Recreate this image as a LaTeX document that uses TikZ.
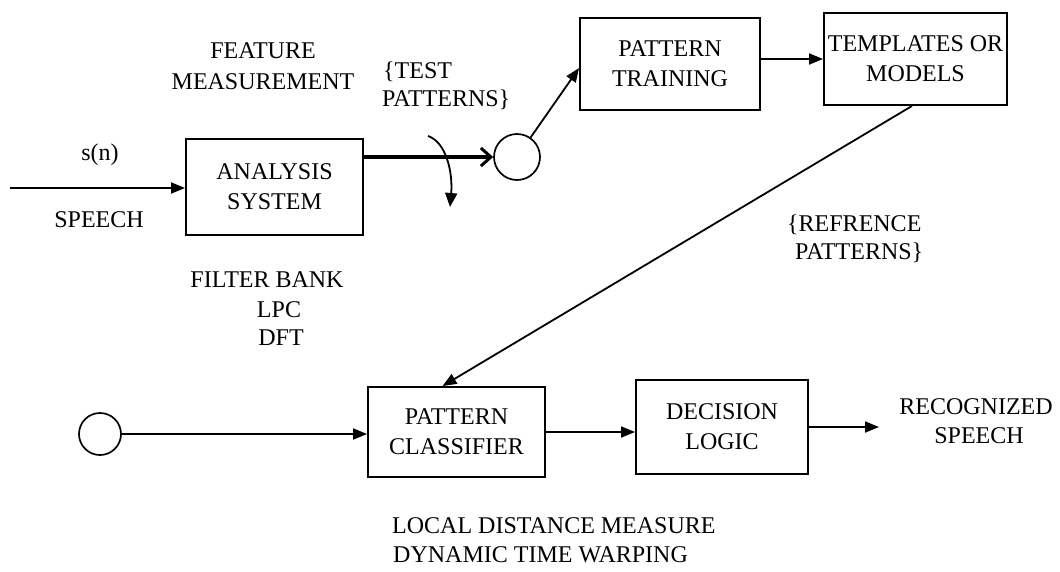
\documentclass[tikz,border=0pt]{standalone}
\usepackage{fontspec}
\setmainfont{Liberation Serif}
\usetikzlibrary{arrows.meta}
\begin{document}
\begin{tikzpicture}[x=1pt,y=-1pt,
  font=\fontsize{24}{30}\selectfont,
  block/.style={draw, line width=1.9pt, align=center, inner sep=0pt},
  hole/.style={draw, circle, line width=1.7pt, inner sep=0pt},
  lbl/.style={align=center, inner sep=0pt},
  flow/.style={line width=1.8pt, -{Triangle[length=14pt,width=11pt]}},
  bus/.style={line width=3.6pt, -{Straight Barb[length=10pt,width=18pt,line width=3pt]}},
]
\useasboundingbox (0,0) rectangle (1060,571);

% processing blocks
\node[block, minimum width=177pt, minimum height=96pt] (ana) at (274.5,187) {ANALYSIS\\SYSTEM};
\node[block, minimum width=180pt, minimum height=92pt] (pt) at (670,64) {PATTERN\\TRAINING};
\node[block, minimum width=183pt, minimum height=92pt] (tm) at (915.5,59) {TEMPLATES OR\\MODELS};
\node[block, minimum width=177pt, minimum height=90pt] (pc) at (456.5,432) {PATTERN\\CLASSIFIER};
\node[block, minimum width=172pt, minimum height=94pt] (dl) at (722,427) {DECISION\\LOGIC};

% switch terminals
\node[hole, minimum size=46pt] (c1) at (517,157) {};
\node[hole, minimum size=42pt] (c2) at (100,434) {};

% free ends
\coordinate (src) at (10,188);
\coordinate (out) at (879,427);
\coordinate (sw0) at (428,136);
\coordinate (sw1) at (450,207);

% connectors
\draw[flow] (src) -- (src -| ana.west);
\draw[bus] (ana.east |- c1) -- (c1.west);
\draw[line width=1.8pt, -{Triangle[length=14pt,width=12pt]}] (sw0) .. controls (446,142) and (453,172) .. (sw1);
\draw[flow] (c1) -- ([yshift=-4pt]pt.west);
\draw[flow] (pt.east |- tm.west) -- (tm.west);
\draw[flow] ([xshift=-3.5pt]tm.south) -- ([xshift=-14pt]pc.north);
\draw[flow] (c2) -- (c2 -| pc.west);
\draw[flow] (pc.east) -- (pc.east -| dl.west);
\draw[flow] (dl.east) -- (out);

% labels
\node[lbl] (sn) at (100,155) {s(n)};
\node[lbl] (sp) at (99,220) {SPEECH};
\node[lbl] (fe1) at (263,51) {FEATURE};
\node[lbl] (fe2) at (263,82) {MEASUREMENT};
\node[lbl, anchor=west] (tp1) at (383,72) {\{TEST};
\node[lbl, anchor=west] (tp2) at (382,100) {PATTERNS\}};
\node[lbl, anchor=west] (rp1) at (787,225) {\{REFRENCE};
\node[lbl, anchor=west] (rp2) at (795,253) {PATTERNS\}};
\node[lbl] (fb) at (267,280) {FILTER BANK};
\node[lbl] (lpc) at (279,310) {LPC};
\node[lbl] (dft) at (281,338) {DFT};
\node[lbl] (rs1) at (976,407) {RECOGNIZED};
\node[lbl] (rs2) at (979,436) {SPEECH};
\node[lbl, anchor=west] (ld1) at (392,526) {LOCAL DISTANCE MEASURE};
\node[lbl, anchor=west] (ld2) at (393,555) {DYNAMIC TIME WARPING};
\end{tikzpicture}
\end{document}
